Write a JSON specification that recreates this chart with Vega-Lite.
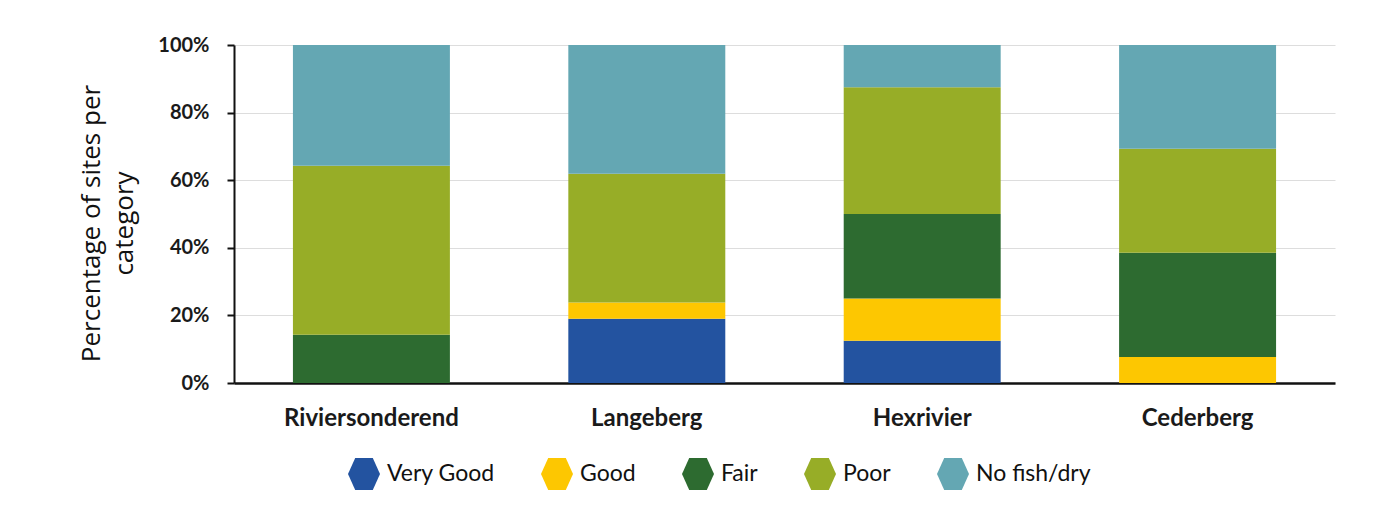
{
  "$schema": "https://vega.github.io/schema/vega-lite/v6.json",
  "autosize": "none",
  "width": 1101,
  "height": 338,
  "padding": {"left": 234, "top": 45, "right": 59, "bottom": 132},
  "background": "white",
  "data": {
    "values": [
      {"site": "Riviersonderend", "category": "Fair", "rank": 3, "pct": 14.3},
      {"site": "Riviersonderend", "category": "Poor", "rank": 4, "pct": 50.0},
      {"site": "Riviersonderend", "category": "No fish/dry", "rank": 5, "pct": 35.7},
      {"site": "Langeberg", "category": "Very Good", "rank": 1, "pct": 19.0},
      {"site": "Langeberg", "category": "Good", "rank": 2, "pct": 4.8},
      {"site": "Langeberg", "category": "Poor", "rank": 4, "pct": 38.1},
      {"site": "Langeberg", "category": "No fish/dry", "rank": 5, "pct": 38.1},
      {"site": "Hexrivier", "category": "Very Good", "rank": 1, "pct": 12.5},
      {"site": "Hexrivier", "category": "Good", "rank": 2, "pct": 12.5},
      {"site": "Hexrivier", "category": "Fair", "rank": 3, "pct": 25.0},
      {"site": "Hexrivier", "category": "Poor", "rank": 4, "pct": 37.5},
      {"site": "Hexrivier", "category": "No fish/dry", "rank": 5, "pct": 12.5},
      {"site": "Cederberg", "category": "Good", "rank": 2, "pct": 7.7},
      {"site": "Cederberg", "category": "Fair", "rank": 3, "pct": 30.8},
      {"site": "Cederberg", "category": "Poor", "rank": 4, "pct": 30.8},
      {"site": "Cederberg", "category": "No fish/dry", "rank": 5, "pct": 30.7}
    ]
  },
  "mark": {"type": "bar"},
  "encoding": {
    "x": {
      "field": "site",
      "type": "nominal",
      "sort": ["Riviersonderend", "Langeberg", "Hexrivier", "Cederberg"],
      "scale": {"paddingInner": 0.43, "paddingOuter": 0.214},
      "axis": {
        "title": null,
        "labelAngle": 0,
        "labelFont": "Lato",
        "labelFontWeight": "bold",
        "labelFontSize": 24,
        "labelColor": "#1a1a1a",
        "labelPadding": 23,
        "ticks": false,
        "domainColor": "#111111",
        "domainWidth": 2.5,
        "grid": false
      }
    },
    "y": {
      "field": "pct",
      "type": "quantitative",
      "stack": "normalize",
      "scale": {"domain": [0, 1]},
      "axis": {
        "title": ["Percentage of sites per", "category"],
        "titleFont": "Open Sans",
        "titleFontSize": 26,
        "titleFontWeight": "normal",
        "titleColor": "#111111",
        "titleLineHeight": 33,
        "titlePadding": 20,
        "titleY": 178,
        "values": [0, 0.2, 0.4, 0.6, 0.8, 1],
        "format": ".0%",
        "labelFont": "Lato",
        "labelFontWeight": "bold",
        "labelFontSize": 20,
        "labelColor": "#1a1a1a",
        "labelPadding": 18,
        "tickSize": 7,
        "tickColor": "#111111",
        "tickWidth": 2,
        "domainColor": "#111111",
        "domainWidth": 2,
        "gridColor": "#dddddd",
        "gridWidth": 1.2
      }
    },
    "color": {
      "field": "category",
      "type": "nominal",
      "scale": {
        "domain": ["Very Good", "Good", "Fair", "Poor", "No fish/dry"],
        "range": ["#2353a0", "#fdc701", "#2d6b30", "#97ad27", "#64a7b3"]
      },
      "legend": {
        "title": null,
        "orient": "none",
        "direction": "horizontal",
        "legendX": 114,
        "legendY": 413,
        "symbolType": "M -0.55 -1 L 0.55 -1 L 1 0 L 0.55 1 L -0.55 1 L -1 0 Z",
        "symbolSize": 1024,
        "symbolStrokeWidth": 0,
        "symbolOpacity": 1,
        "labelFont": "Lato",
        "labelFontSize": 23,
        "labelColor": "#111111",
        "labelOffset": 7,
        "columnPadding": 46,
        "labelLimit": 300
      }
    },
    "order": {"field": "rank", "type": "quantitative", "sort": "ascending"}
  },
  "config": {
    "view": {"stroke": null}
  }
}
